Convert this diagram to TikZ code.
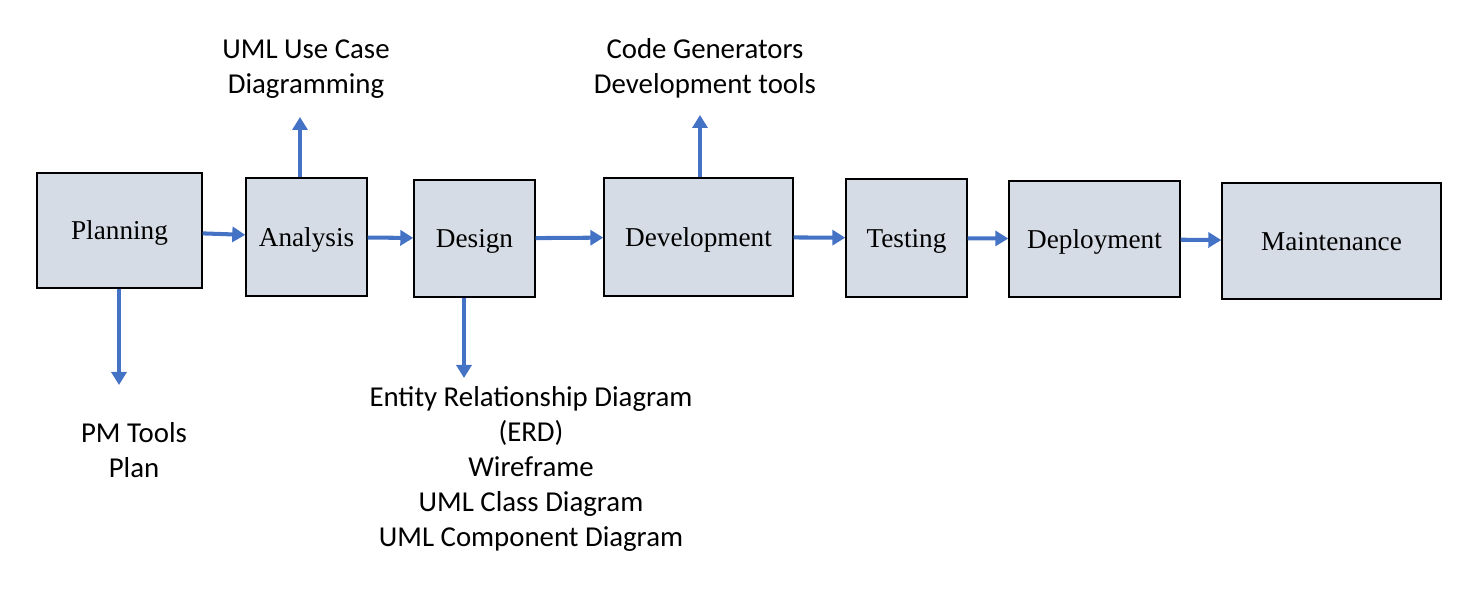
\documentclass[tikz,border=0pt]{standalone}
\usepackage{fontspec}
\setmainfont{Liberation Serif}
\newfontfamily\labelfont{Carlito}
\usetikzlibrary{arrows.meta}
\definecolor{FlowBlue}{HTML}{4472C4}
\definecolor{BoxGrey}{HTML}{D6DCE5}

\begin{document}
\begin{tikzpicture}[
    phase/.style={draw=black, line width=0.8pt, fill=BoxGrey, text depth=0pt, font=\fontsize{15.5}{18}\selectfont},
    flow/.style={FlowBlue, line width=2.3pt, -{Triangle[length=0.26cm,width=0.3cm]}},
    tools/.style={align=center, font=\labelfont\fontsize{16.4}{19.9}\selectfont}
]
    \useasboundingbox (0,0) rectangle (29.52,11.92);
    % Phases
    \node[phase, minimum width=3.3cm, minimum height=2.3cm] (plan) at (2.39,7.31) {Planning};
    \node[phase, minimum width=2.42cm, minimum height=2.36cm] (analysis) at (6.13,7.18) {Analysis};
    \node[phase, minimum width=2.42cm, minimum height=2.34cm] (design) at (9.49,7.15) {Design};
    \node[phase, minimum width=3.78cm, minimum height=2.36cm] (dev) at (13.97,7.18) {Development};
    \node[phase, minimum width=2.42cm, minimum height=2.36cm] (test) at (18.13,7.16) {Testing};
    \node[phase, minimum width=3.42cm, minimum height=2.32cm] (deploy) at (21.89,7.14) {Deployment};
    \node[phase, minimum width=4.38cm, minimum height=2.32cm] (maint) at (26.63,7.10) {Maintenance};
    \draw[flow] (plan) -- (analysis);
    \draw[flow] (analysis) -- (design);
    \draw[flow] (design) -- (dev);
    \draw[flow] (dev) -- (test);
    \draw[flow] (test) -- (deploy);
    \draw[flow] (deploy) -- (maint);

    % Tools for each phase
    \coordinate (planTip) at (2.38,4.22);
    \coordinate (analysisTip) at (6.0,9.58);
    \coordinate (designTip) at (9.28,4.36);
    \coordinate (devTip) at (14.0,9.62);
    \draw[flow] (plan.south -| planTip) -- (planTip);
    \draw[flow] (analysis.north -| analysisTip) -- (analysisTip);
    \draw[flow] (design.south -| designTip) -- (designTip);
    \draw[flow] (dev.north -| devTip) -- (devTip);
    \node[tools] (planTools) at (2.68,2.91) {PM Tools\\Plan};
    \node[tools] (analysisTools) at (6.12,10.53) {UML Use Case\\Diagramming};
    \node[tools] (designTools) at (10.62,2.54) {Entity Relationship Diagram\\(ERD)\\Wireframe\\UML Class Diagram\\UML Component Diagram};
    \node[tools] (devTools) at (14.1,10.55) {Code Generators\\Development tools};
\end{tikzpicture}
\end{document}
